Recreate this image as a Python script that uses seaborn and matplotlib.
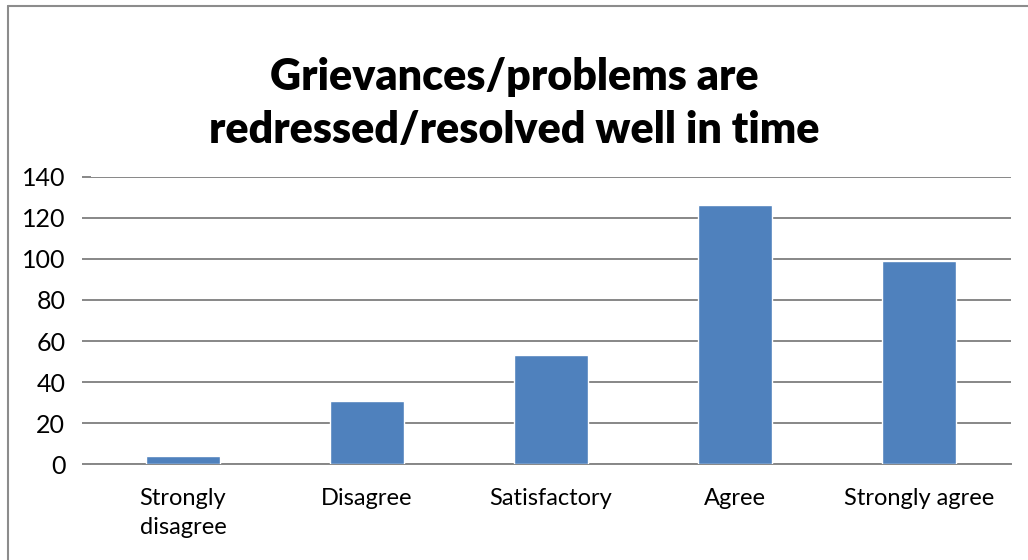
import numpy as np
import pandas as pd
import matplotlib
matplotlib.use("Agg")
import matplotlib.pyplot as plt
import seaborn as sns
from matplotlib.lines import Line2D

# --- data ---
categories = ["Strongly\ndisagree", "Disagree", "Satisfactory", "Agree", "Strongly agree"]
counts = [4, 31, 53, 126, 99]
y_ticks = [0, 20, 40, 60, 80, 100, 120, 140]
title_text = "Grievances/problems are\nredressed/resolved well in time"

df = pd.DataFrame({"Response": categories, "Count": counts})

sns.set_theme(style="white")
plt.rcParams["font.family"] = ["Lato", "DejaVu Sans"]

fig = plt.figure(figsize=(10.28, 5.6), dpi=100)
ax = fig.add_axes([91 / 1028, 1 - 464.3 / 560, 920 / 1028, 287.6 / 560])

sns.barplot(data=df, x="Response", y="Count", color="#4F81BD", width=0.4,
            saturation=1, ax=ax, zorder=3)

ax.set_ylim(0, 140)
ax.set_xlim(-0.5, len(categories) - 0.5)
ax.set_yticks(y_ticks)
ax.yaxis.grid(True, color="#878787", linewidth=1.4, zorder=0)
ax.set_axisbelow(True)
ax.set_xlabel("")
ax.set_ylabel("")

for side in ["top", "right", "left"]:
    ax.spines[side].set_visible(False)
ax.spines["bottom"].set_color("#878787")
ax.spines["bottom"].set_linewidth(1.4)

# category boundary tick marks below the axis
ax.set_xticks(np.arange(-0.5, len(categories), 1.0), minor=True)
ax.tick_params(axis="x", which="minor", length=6, width=1.4, color="#878787", direction="out")
ax.tick_params(axis="x", which="major", length=0, pad=17, labelsize=17, labelcolor="black")
ax.tick_params(axis="y", length=6.5, width=1.4, color="#878787", pad=12, labelsize=18,
               labelcolor="black", direction="out", left=True)
for lbl in ax.get_xticklabels():
    lbl.set_linespacing(1.5)

fig.text(0.5, 0.815, title_text, ha="center", va="center", fontsize=31,
         fontweight="heavy", color="black", linespacing=1.4)

# chart-area border (left and top edge visible)
fig.add_artist(Line2D([8 / 1028, 8 / 1028], [0, 1 - 6 / 560], color="#8c8c8c", linewidth=1.5))
fig.add_artist(Line2D([8 / 1028, 1], [1 - 6 / 560, 1 - 6 / 560], color="#8c8c8c", linewidth=1.5))

fig.savefig("out.png", dpi=100)
